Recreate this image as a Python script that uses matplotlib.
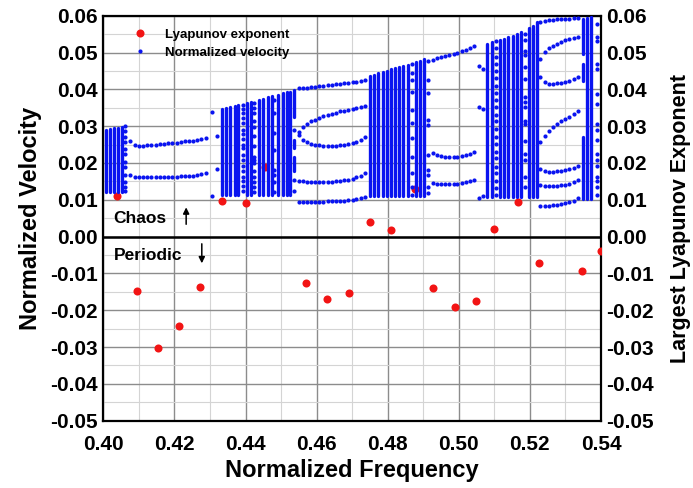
import numpy as np
import matplotlib
matplotlib.use("Agg")
import matplotlib.pyplot as plt

plt.rcParams['font.family'] = ['Liberation Sans', 'DejaVu Sans']
plt.rcParams['font.weight'] = 'bold'

# ---- Lyapunov exponent (red) ----
lyap_f = [0.4038, 0.4094, 0.4154, 0.4214, 0.4273, 0.4333, 0.4401, 0.4455,
          0.4571, 0.4630, 0.4690, 0.4750, 0.4809, 0.4877, 0.4928, 0.4988,
          0.5047, 0.5099, 0.5166, 0.5225, 0.5346, 0.5400]
lyap_v = [0.0111, -0.0148, -0.0303, -0.0242, -0.0138, 0.0098, 0.0091, 0.0189,
          -0.0125, -0.0169, -0.0152, 0.0040, 0.0018, 0.0129, -0.0139, -0.0192,
          -0.0176, 0.0021, 0.0093, -0.0072, -0.0094, -0.0038]

# ---- chaotic bands: solid columns (freq, bottom, top) ----
band1_f = [0.4008, 0.4019, 0.4030, 0.4042, 0.4052]
band1_top = [0.0290, 0.0292, 0.0295, 0.0296, 0.0299]
band1_bot = 0.0122

band2_f = [0.4333, 0.4345, 0.4356, 0.4369, 0.4380, 0.4403, 0.4416, 0.4439,
           0.4450, 0.4463, 0.4474, 0.4492, 0.4505, 0.4516, 0.4525]
band2_top = [0.0346, 0.0349, 0.0352, 0.0355, 0.0358, 0.0363, 0.0366, 0.0372,
             0.0375, 0.0378, 0.0381, 0.0386, 0.0389, 0.0392, 0.0394]
band2_bot = 0.0113

band3_f = [0.4750, 0.4762, 0.4774, 0.4786, 0.4797, 0.4809, 0.4821, 0.4833,
           0.4844, 0.4856, 0.4880, 0.4891, 0.4903]
band3_top = [0.0435, 0.0439, 0.0444, 0.0447, 0.0451, 0.0455, 0.0458, 0.0460,
             0.0464, 0.0467, 0.0473, 0.0477, 0.0482]
band3_bot = 0.0109

band4_f = [0.5080, 0.5093, 0.5116, 0.5127, 0.5139, 0.5151, 0.5163, 0.5174,
           0.5197, 0.5210, 0.5221]
band4_top = [0.0524, 0.0528, 0.0535, 0.0537, 0.0542, 0.0546, 0.0551, 0.0555,
             0.0567, 0.0573, 0.0583]
band4_bot = 0.0107

# partial column pieces
piece_f = [0.4537, 0.4537, 0.4537, 0.5350, 0.5350, 0.5350, 0.5361, 0.5372]
piece_lo = [0.0325, 0.0240, 0.0178, 0.0496, 0.0424, 0.0102, 0.0102, 0.0102]
piece_hi = [0.0399, 0.0262, 0.0215, 0.0592, 0.0469, 0.0270, 0.0594, 0.0596]

# ---- sparse (dotted) columns inside the chaotic bands ----
sparse_f = [0.4061, 0.4392, 0.4425, 0.4481, 0.4537, 0.4868, 0.4914, 0.5104,
            0.5186, 0.5388]
sparse_v = [
    [0.0301, 0.0288, 0.0270, 0.0258, 0.0238, 0.0224, 0.0204, 0.0190, 0.0168,
     0.0147, 0.0134, 0.0124],
    [0.0358, 0.0346, 0.0335, 0.0322, 0.0308, 0.0290, 0.0279, 0.0265, 0.0249,
     0.0240, 0.0222, 0.0208, 0.0192, 0.0177, 0.0163, 0.0152, 0.0138, 0.0125],
    [0.0362, 0.0349, 0.0335, 0.0313, 0.0299, 0.0272, 0.0245, 0.0217, 0.0208,
     0.0199, 0.0177, 0.0163, 0.0149, 0.0136, 0.0122],
    [0.0371, 0.0335, 0.0281, 0.0236, 0.0181, 0.0168, 0.0149, 0.0122],
    [0.0290, 0.0155, 0.0125],
    [0.0469, 0.0444, 0.0426, 0.0394, 0.0344, 0.0308, 0.0267, 0.0217, 0.0172,
     0.0136, 0.0112],
    [0.0476, 0.0426, 0.0390, 0.0317, 0.0304, 0.0222, 0.0181, 0.0168, 0.0136,
     0.0118],
    [0.0530, 0.0512, 0.0489, 0.0470, 0.0449, 0.0431, 0.0408, 0.0391, 0.0371,
     0.0352, 0.0329, 0.0313, 0.0291, 0.0270, 0.0251, 0.0230, 0.0213, 0.0190,
     0.0173, 0.0151, 0.0133, 0.0112],
    [0.0551, 0.0533, 0.0505, 0.0492, 0.0460, 0.0429, 0.0379, 0.0365, 0.0352,
     0.0315, 0.0306, 0.0261, 0.0225, 0.0207, 0.0161, 0.0134],
    [0.0578, 0.0543, 0.0532, 0.0469, 0.0455, 0.0388, 0.0361, 0.0306, 0.0290,
     0.0263, 0.0225, 0.0208, 0.0192, 0.0162, 0.0151, 0.0135, 0.0113],
]

# ---- periodic windows ----
win1_f = [0.4075, 0.4089, 0.4101, 0.4112, 0.4124, 0.4135, 0.4147, 0.4159,
          0.4170, 0.4182, 0.4194, 0.4206, 0.4218, 0.4229, 0.4241, 0.4253,
          0.4264, 0.4276, 0.4290]
win1_upper = [0.0260, 0.0249, 0.0247, 0.0247, 0.0248, 0.0249, 0.0249, 0.0251,
              0.0252, 0.0253, 0.0254, 0.0255, 0.0257, 0.0259, 0.0259, 0.0261,
              0.0263, 0.0264, 0.0267]
win1_lower = [0.0168, 0.0161, 0.0161, 0.0161, 0.0161, 0.0161, 0.0161, 0.0161,
              0.0162, 0.0162, 0.0162, 0.0163, 0.0164, 0.0164, 0.0165, 0.0166,
              0.0167, 0.0169, 0.0173]

win2_f = [0.4549, 0.4561, 0.4572, 0.4584, 0.4596, 0.4607, 0.4619, 0.4631,
          0.4642, 0.4654, 0.4666, 0.4677, 0.4689, 0.4701, 0.4712, 0.4724,
          0.4736]
win2_b1 = [0.0403, 0.0404, 0.0405, 0.0406, 0.0407, 0.0408, 0.0410, 0.0411,
           0.0412, 0.0414, 0.0415, 0.0417, 0.0418, 0.0420, 0.0421, 0.0423,
           0.0426]
win2_b2 = [0.0283, 0.0297, 0.0306, 0.0313, 0.0318, 0.0323, 0.0327, 0.0331,
           0.0334, 0.0337, 0.0340, 0.0342, 0.0344, 0.0346, 0.0348, 0.0351,
           0.0354]
win2_b3 = [0.0276, 0.0262, 0.0256, 0.0252, 0.0249, 0.0248, 0.0247, 0.0247,
           0.0247, 0.0247, 0.0248, 0.0249, 0.0251, 0.0253, 0.0257, 0.0262,
           0.0270]
win2_b4 = [0.0152, 0.0150, 0.0149, 0.0149, 0.0148, 0.0148, 0.0148, 0.0149,
           0.0149, 0.0150, 0.0151, 0.0153, 0.0155, 0.0157, 0.0161, 0.0166,
           0.0174]
win2_b5 = [0.0093, 0.0094, 0.0095, 0.0095, 0.0095, 0.0095, 0.0095, 0.0096,
           0.0096, 0.0096, 0.0097, 0.0098, 0.0099, 0.0100, 0.0102, 0.0104,
           0.0108]

win3_f = [0.4926, 0.4938, 0.4950, 0.4961, 0.4973, 0.4985, 0.4996, 0.5008,
          0.5020, 0.5031, 0.5043]
win3_b1 = [0.0480, 0.0484, 0.0487, 0.0491, 0.0494, 0.0497, 0.0500, 0.0503,
           0.0507, 0.0511, 0.0518]
win3_b2 = [0.0227, 0.0222, 0.0219, 0.0217, 0.0216, 0.0216, 0.0217, 0.0219,
           0.0221, 0.0225, 0.0230]
win3_b3 = [0.0145, 0.0143, 0.0142, 0.0142, 0.0142, 0.0143, 0.0144, 0.0145,
           0.0147, 0.0150, 0.0155]

win4_f = [0.5229, 0.5241, 0.5253, 0.5264, 0.5276, 0.5288, 0.5299, 0.5311,
          0.5323, 0.5334]
win4_b1 = [0.0583, 0.0585, 0.0587, 0.0589, 0.0590, 0.0591, 0.0592, 0.0592,
           0.0593, 0.0594]
win4_b2 = [0.0483, 0.0501, 0.0513, 0.0519, 0.0524, 0.0528, 0.0533, 0.0536,
           0.0540, 0.0543]
win4_b3 = [0.0433, 0.0420, 0.0415, 0.0415, 0.0417, 0.0418, 0.0421, 0.0424,
           0.0428, 0.0433]
win4_b4 = [0.0257, 0.0274, 0.0288, 0.0297, 0.0306, 0.0314, 0.0320, 0.0326,
           0.0333, 0.0342]
win4_b5 = [0.0184, 0.0178, 0.0176, 0.0176, 0.0177, 0.0179, 0.0180, 0.0183,
           0.0187, 0.0193]
win4_b6 = [0.0141, 0.0138, 0.0137, 0.0137, 0.0138, 0.0139, 0.0140, 0.0143,
           0.0148, 0.0154]
win4_b7 = [0.0082, 0.0083, 0.0084, 0.0086, 0.0087, 0.0089, 0.0091, 0.0093,
           0.0098, 0.0105]

# isolated transition points
iso_f = [0.4305, 0.4305, 0.4319, 0.4319, 0.5057, 0.5057, 0.5057,
         0.5069, 0.5069, 0.5069]
iso_v = [0.0338, 0.0111, 0.0272, 0.0184, 0.0464, 0.0352, 0.0105,
         0.0456, 0.0347, 0.0111]

BLUE = '#0a14f0'
RED = '#f21414'

fig = plt.figure(figsize=(6.93, 4.88), dpi=100)
ax = fig.add_axes([0.1491, 0.1379, 0.7182, 0.8299])

# red below blue
ax.plot(lyap_f, lyap_v, 'o', color=RED, ms=5.8, mew=0, zorder=3,
        label='Lyapunov exponent')

# chaotic columns
for f, top, bot in [(band1_f, band1_top, band1_bot), (band2_f, band2_top, band2_bot),
                    (band3_f, band3_top, band3_bot), (band4_f, band4_top, band4_bot)]:
    ax.vlines(f, bot, top, color=BLUE, lw=2.4, zorder=4, capstyle='round')
ax.vlines(piece_f, piece_lo, piece_hi, color=BLUE, lw=2.4, zorder=4,
          capstyle='round')

vel_kw = dict(ls='none', marker='o', color=BLUE, ms=3.0, mew=0, zorder=4)
for f, vals in zip(sparse_f, sparse_v):
    ax.plot([f] * len(vals), vals, **vel_kw)
for f, branches in [(win1_f, [win1_upper, win1_lower]),
                    (win2_f, [win2_b1, win2_b2, win2_b3, win2_b4, win2_b5]),
                    (win3_f, [win3_b1, win3_b2, win3_b3]),
                    (win4_f, [win4_b1, win4_b2, win4_b3, win4_b4, win4_b5,
                              win4_b6, win4_b7])]:
    for b in branches:
        ax.plot(f, b, **vel_kw)
ax.plot(iso_f, iso_v, label='Normalized velocity', **vel_kw)

ax.axhline(0, color='black', lw=1.8, zorder=5)

ax.set_xlim(0.40, 0.54)
ax.set_ylim(-0.05, 0.06)
ax.set_xticks(np.arange(0.40, 0.5401, 0.02))
ax.set_xticks(np.arange(0.41, 0.54, 0.02), minor=True)
ax.set_yticks(np.arange(-0.05, 0.0601, 0.01))
ax.set_yticks(np.arange(-0.045, 0.06, 0.01), minor=True)
ax.xaxis.set_major_formatter(matplotlib.ticker.FormatStrFormatter('%.2f'))
ax.yaxis.set_major_formatter(matplotlib.ticker.FormatStrFormatter('%.2f'))
ax.grid(which='major', color='#8c8c8c', lw=1.0, zorder=0)
ax.grid(which='minor', color='#d4d4d4', lw=0.8, zorder=0)
ax.set_axisbelow(True)
ax.tick_params(which='both', length=0, labelsize=15, pad=4)
ax.tick_params(axis='x', pad=10)
for s in ax.spines.values():
    s.set_linewidth(1.6)

ax.set_xlabel('Normalized Frequency', fontsize=17, fontweight='bold', labelpad=4)
ax.set_ylabel('Normalized Velocity', fontsize=17, fontweight='bold', labelpad=6)

ax2 = ax.twinx()
ax2.set_ylim(-0.05, 0.06)
ax2.set_yticks(np.arange(-0.05, 0.0601, 0.01))
ax2.yaxis.set_major_formatter(matplotlib.ticker.FormatStrFormatter('%.2f'))
ax2.tick_params(length=0, labelsize=15, pad=4)
ax2.set_ylabel('Largest Lyapunov Exponent', fontsize=15.5, fontweight='bold',
               labelpad=11)
for s in ax2.spines.values():
    s.set_visible(False)

ax.text(0.4027, 0.0049, 'Chaos', fontsize=12.5, fontweight='bold',
        va='center', ha='left', zorder=6)
ax.annotate('', xy=(0.4233, 0.0087), xytext=(0.4233, 0.0026),
            arrowprops=dict(arrowstyle='-|>', lw=1.1, color='black',
                            mutation_scale=9), zorder=6)
ax.text(0.4031, -0.0052, 'Periodic', fontsize=12.5, fontweight='bold',
        va='center', ha='left', zorder=6)
ax.annotate('', xy=(0.4277, -0.0080), xytext=(0.4277, -0.0012),
            arrowprops=dict(arrowstyle='-|>', lw=1.1, color='black',
                            mutation_scale=9), zorder=6)

leg = ax.legend(loc='upper left', bbox_to_anchor=(0.050, 0.982), frameon=False,
                handlelength=1.0, handletextpad=1.4,
                labelspacing=0.45, borderaxespad=0, markerscale=1.0,
                prop={'weight': 'bold', 'size': 9.5})

fig.savefig('out.png', dpi=100)
